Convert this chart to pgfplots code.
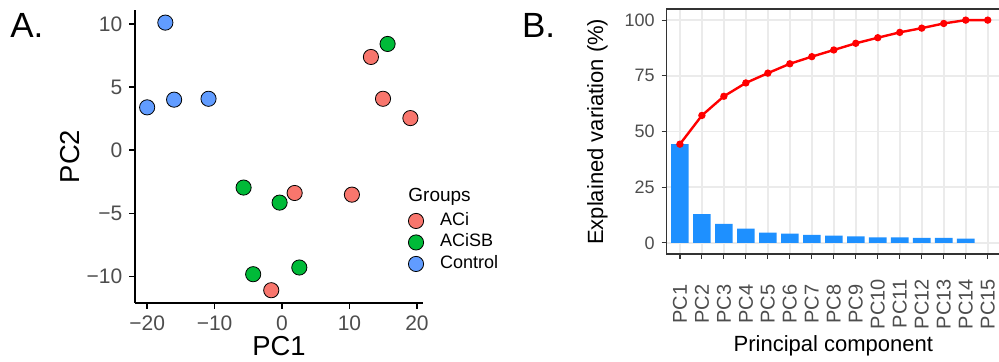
\documentclass[border=0pt]{standalone}
\usepackage{fontspec}
\setmainfont{Liberation Sans}
\usepackage{pgfplots}
\pgfplotsset{compat=1.18}
\definecolor{aci}{HTML}{F8766D}
\definecolor{acisb}{HTML}{00BA38}
\definecolor{ctrl}{HTML}{619CFF}
\definecolor{tickgray}{HTML}{4D4D4D}
\definecolor{framec}{HTML}{333333}
\definecolor{gridc}{HTML}{EBEBEB}
\definecolor{barblue}{HTML}{1E90FF}
\pgfplotsset{myleg/.style={legend image code/.code={\path[draw=none,fill=none] (-4pt,-4pt) rectangle (4pt,4pt); \draw[##1,mark repeat=1] plot coordinates {(0pt,0pt)};}}}
\begin{document}
\begin{tikzpicture}
\path[use as bounding box] (0,0) rectangle (499.5pt,181pt);
\node[anchor=base west, inner sep=0pt, font=\fontsize{17.5}{20}\selectfont] at (5pt,162pt) {A.};
\node[anchor=base west, inner sep=0pt, font=\fontsize{17.5}{20}\selectfont] at (260.8pt,162pt) {B.};
\begin{axis}[
  at={(67.5pt,29.5pt)}, anchor=south west, scale only axis,
  width=144pt, height=146.5pt,
  xmin=-21.8, xmax=20.9, ymin=-12.1, ymax=11.1,
  axis x line*=bottom, axis y line*=left,
  axis line style={black, line width=0.8pt, -},
  xtick={-20,-10,0,10,20}, xticklabels={−20,−10,0,10,20},
  ytick={-10,-5,0,5,10}, yticklabels={−10,−5,0,5,10},
  tick align=outside, major tick length=2.8pt, tick style={black, line width=0.8pt},
  ticklabel style={font=\fontsize{10.5}{12}\selectfont, text=tickgray},
  xlabel={PC1}, ylabel={PC2},
  label style={font=\fontsize{13.7}{16}\selectfont},
  xlabel style={at={(axis description cs:0.5,-0.1775)}, anchor=base},
  ylabel style={at={(axis description cs:-0.191,0.5)}, anchor=base},
  legend style={at={(axis description cs:0.948,0.309)}, anchor=north west, draw=none, fill=none,
    inner sep=0pt, outer sep=0pt, row sep=2.25pt, column sep=8pt,
    nodes={inner sep=0pt, text height=6.5pt, text depth=2pt},
    font=\fontsize{9}{11}\selectfont},
  legend cell align=left,
  clip=false,
]
\addplot[only marks, mark=*, mark size=3.8pt, mark options={fill=aci, draw=black, line width=0.4pt}, myleg]
  coordinates {(13.18,7.38) (14.97,4.07) (19.03,2.54) (1.87,-3.39) (10.36,-3.52) (-1.6,-11.09)};
\addlegendentry{ACi}
\addplot[only marks, mark=*, mark size=3.8pt, mark options={fill=acisb, draw=black, line width=0.4pt}, myleg]
  coordinates {(15.65,8.41) (-5.7,-2.96) (-0.36,-4.15) (-4.28,-9.82) (2.56,-9.29)};
\addlegendentry{ACiSB}
\addplot[only marks, mark=*, mark size=3.8pt, mark options={fill=ctrl, draw=black, line width=0.4pt}, myleg]
  coordinates {(-17.3,10.1) (-20.0,3.39) (-16.0,4.0) (-10.9,4.07)};
\addlegendentry{Control}
\node[anchor=base west, inner sep=0pt, font=\fontsize{9.5}{11}\selectfont] at (axis description cs:0.948,0.3457) {Groups};
\end{axis}
\begin{axis}[
  at={(333.35pt,54pt)}, anchor=south west, scale only axis,
  width=167.1pt, height=122.5pt,
  xmin=0.4, xmax=15.6, ymin=-5, ymax=105,
  axis line style={framec, line width=0.6pt},
  xtick={1,...,15}, xticklabels={PC1,PC2,PC3,PC4,PC5,PC6,PC7,PC8,PC9,PC10,PC11,PC12,PC13,PC14,PC15},
  ytick={0,25,50,75,100},
  xmajorgrids, ymajorgrids, major grid style={gridc, line width=0.9pt},
  tick align=outside, major tick length=2.5pt, tick style={framec, line width=0.6pt},
  xtick pos=left, ytick pos=left,
  xticklabel style={anchor=center, yshift=-22.5pt, rotate=90, font=\fontsize{10}{12}\selectfont, text=tickgray},
  yticklabel style={font=\fontsize{9}{11}\selectfont, text=tickgray},
  /pgf/number format/assume math mode=true,
  xlabel={Principal component}, ylabel={Explained variation (\%)},
  label style={font=\fontsize{11}{13}\selectfont},
  xlabel style={at={(axis description cs:0.4985,-0.399)}, anchor=base},
  ylabel style={at={(axis description cs:-0.19,0.499)}, anchor=base},
]
\addplot[ybar, bar width=0.8, fill=barblue, draw=none]
  coordinates {(1,44.3) (2,12.9) (3,8.5) (4,6.4) (5,4.6) (6,4.15) (7,3.6) (8,3.25) (9,2.95) (10,2.5) (11,2.5) (12,2.2) (13,2.2) (14,1.9)};
\addplot[red, line width=1.2pt, mark=*, mark size=1.2pt, mark options={fill=red, draw=red}]
  coordinates {(1,44.3) (2,57.2) (3,65.8) (4,71.8) (5,76.2) (6,80.4) (7,83.6) (8,86.6) (9,89.6) (10,92.1) (11,94.5) (12,96.4) (13,98.5) (14,100) (15,100)};
\end{axis}
\end{tikzpicture}
\end{document}
